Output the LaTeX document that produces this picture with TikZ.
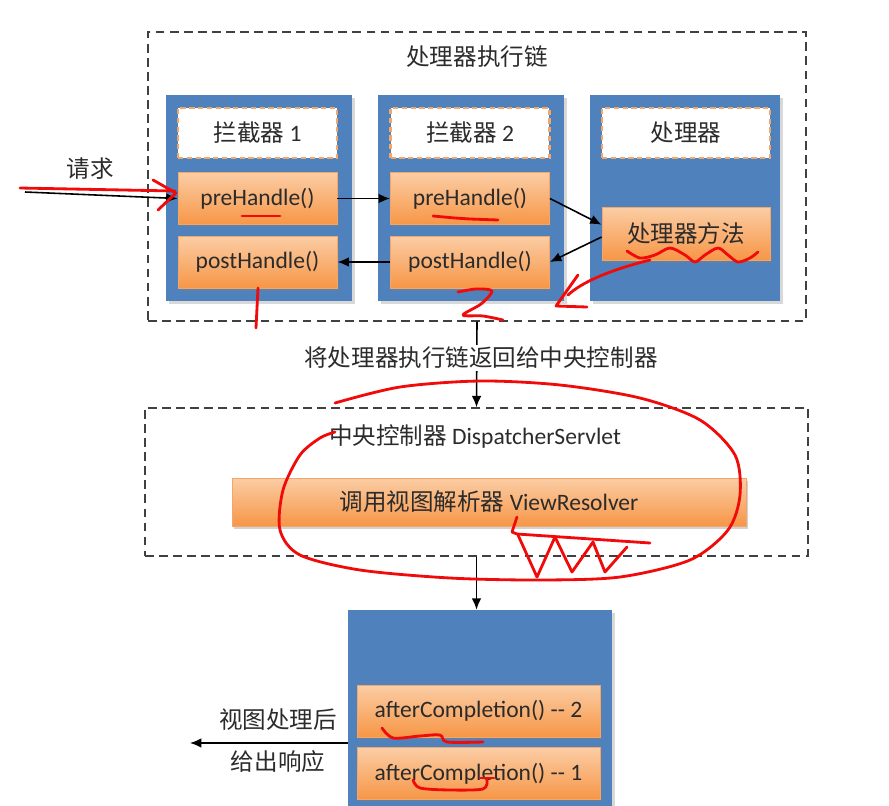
\documentclass[tikz,border=0pt]{standalone}
\usepackage{fontspec}
\setmainfont{Carlito}
\newfontfamily\cjk{Noto Sans CJK SC}
\usepackage{tikz}
\usetikzlibrary{arrows.meta,shadows,positioning}
\definecolor{PanelBlue}{HTML}{4F81BD}
\definecolor{OrangeTop}{HTML}{FBCDA5}
\definecolor{OrangeLow}{HTML}{F79646}
\definecolor{OrangeEdge}{HTML}{F2A66A}
\definecolor{InkGray}{HTML}{2B2B2B}
\definecolor{PenRed}{HTML}{F00A0A}

\begin{document}
\begin{tikzpicture}[
      x=0.02cm,
      y=-0.02cm,
      font=\fontsize{13.4}{16}\selectfont,
      text=InkGray,
      >={Latex[length=6.5pt,width=5.5pt]},
      frame/.style={draw=black!75,dashed,dash pattern=on 5pt off 3pt,line width=0.8pt,inner sep=0pt},
      panel/.style={fill=PanelBlue,inner sep=0pt,minimum height=4.12cm,
        drop shadow={shadow xshift=1.5pt,shadow yshift=-1.5pt,opacity=0.3}},
      headbox/.style={fill=white,draw=OrangeEdge,dashed,dash pattern=on 3pt off 2pt,line width=1.3pt,
        inner sep=0pt,minimum height=1.0cm},
      callbox/.style={top color=OrangeTop,bottom color=OrangeLow,draw=OrangeEdge,line width=0.5pt,
        inner sep=0pt,minimum height=1.04cm,
        drop shadow={shadow xshift=1pt,shadow yshift=-1.5pt,opacity=0.35}},
      flow/.style={->,draw=black,line width=0.9pt},
      scribble/.style={draw=PenRed,line width=1.6pt,line cap=round,line join=round}
    ]
      \clip (0,0) rectangle (889,805);
      \fill[white] (0,0) rectangle (889,805);
      \node[frame,minimum width=13.16cm,minimum height=5.78cm] (chain) at (477,176.5) {};
      \node (chaintitle) at (477,57) {\cjk 处理器执行链};
      \node[panel,minimum width=3.72cm] (panelA) at (259,198) {};
      \node[panel,minimum width=3.72cm] (panelB) at (471,198) {};
      \node[panel,minimum width=3.8cm] (panelC) at (685,198) {};
      \node[headbox,minimum width=3.18cm] (headA) at (257.5,133) {{\cjk 拦截器} 1};
      \node[headbox,minimum width=3.18cm] (headB) at (470,133) {{\cjk 拦截器} 2};
      \node[headbox,minimum width=3.36cm] (headC) at (686,133) {\cjk 处理器};
      \node[callbox,minimum width=3.18cm] (preA) at (257.5,198.5) {preHandle()};
      \node[callbox,minimum width=3.18cm] (postA) at (257.5,262) {postHandle()};
      \node[callbox,minimum width=3.18cm] (preB) at (470,198.5) {preHandle()};
      \node[callbox,minimum width=3.18cm] (postB) at (470,262) {postHandle()};
      \node[callbox,minimum width=3.36cm,minimum height=1.06cm] (method) at (686,233.5) {\cjk 处理器方法};
      \coordinate (reqstart) at (25,192);
      \node (reqlabel) at (90,169) {\cjk 请求};
      \draw[flow] (reqstart) -- (preA.west);
      \draw[flow] (preA.east) -- (preB.west);
      \draw[flow] (preB.east) -- ([yshift=5pt]method.west);
      \draw[flow] ([yshift=-2pt]method.west) -- (postB.east);
      \draw[flow] (postB.west) -- (postA.east);
      \node[frame,minimum width=13.26cm,minimum height=2.96cm] (dispatcher) at (476.5,482) {};
      \draw[flow] (chain.south) -- (dispatcher.north);
      \node[fill=white,inner sep=1pt] (backlabel) at (481,358) {\cjk 将处理器执行链返回给中央控制器};
      \node (dispatchtitle) at (475,436) {{\cjk 中央控制器} DispatcherServlet};
      \node[callbox,minimum width=10.28cm,minimum height=0.96cm] (resolver) at (489,502) {{\cjk 调用视图解析器} ViewResolver};
      \node[panel,minimum width=5.28cm,minimum height=4.8cm] (done) at (480,730) {};
      \draw[flow] (dispatcher.south) -- (dispatcher.south |- done.north);
      \node[callbox,minimum width=4.86cm] (afterB) at (478.5,711) {afterCompletion() {-}{-} 2};
      \node[callbox,minimum width=4.86cm] (afterA) at (478.5,773.5) {afterCompletion() {-}{-} 1};
      \coordinate (respend) at (190,743);
      \draw[flow] (done.west |- respend) -- (respend);
      \node (resplabelA) at (278,720) {\cjk 视图处理后};
      \node (resplabelB) at (278,762) {\cjk 给出响应};
      \draw[scribble] (20,188) -- (175,191);
      \draw[scribble] (153,180) -- (176,193) -- (158,210);
      \draw[scribble] (242,216) -- (280,216);
      \draw[scribble] (433,216) -- (455,218) -- (470,219) -- (498,220);
      \draw[scribble] plot[smooth] coordinates {(627,251) (640,258) (655,255) (670,248) (685,255) (695,262) (705,255) (718,248) (728,255) (738,262) (750,258) (758,252)};
      \draw[scribble] (650,260) .. controls (610,270) and (582,282) .. (568,295);
      \draw[scribble] (578,275) -- (556,306) -- (587,307);
      \draw[scribble] plot[smooth] coordinates {(458,292) (476,289) (492,291) (481,304) (463,315) (483,316) (503,320)};
      \draw[scribble] (258,288) -- (256,328);
      \draw[scribble] plot[smooth] coordinates {(335,403) (400,387) (480,381) (560,385) (640,398) (700,420) (735,455) (740,495) (728,530) (690,560) (620,577) (540,580) (450,578) (360,570) (300,555) (280,530) (283,490) (300,455) (320,438) (335,432)};
      \draw[scribble] (517,517) -- (512,532) -- (517,534) -- (650,543);
      \draw[scribble] (518,535) -- (537,577) -- (555,537) -- (572,572) -- (593,542) -- (605,572) -- (627,547);
      \draw[scribble] plot[smooth] coordinates {(382,728) (393,738) (420,736) (440,735) (447,742) (483,742)};
      \draw[scribble] plot[smooth] coordinates {(413,780) (420,788) (450,790) (483,789) (487,780)};
      \draw[scribble] (480,778) -- (494,778);
    \end{tikzpicture}
\end{document}
